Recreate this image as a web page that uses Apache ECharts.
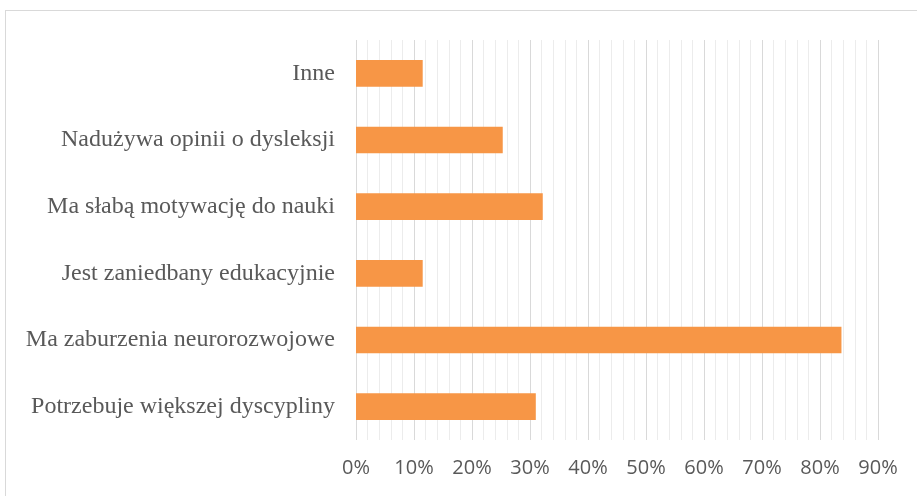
<!DOCTYPE html>
<html>
<head>
<meta charset="utf-8">
<script src="https://cdn.jsdelivr.net/npm/echarts@6/dist/echarts.min.js"></script>
<style>
  html, body { margin: 0; padding: 0; background: #fff; overflow: hidden; }
  #frame { position: absolute; left: 5px; top: 10px; width: 1000px; height: 1000px; border: 1px solid #d9d9d9; }
  #chart { position: absolute; left: 0; top: 0; width: 917px; height: 496px; }
</style>
</head>
<body>
<div id="frame"></div>
<div id="chart"></div>
<script>
// kategorie od dołu do góry
var categories = [
  "Potrzebuje większej dyscypliny",
  "Ma zaburzenia neurorozwojowe",
  "Jest zaniedbany edukacyjnie",
  "Ma słabą motywację do nauki",
  "Nadużywa opinii o dysleksji",
  "Inne"
];
var values = [31.0, 83.7, 11.5, 32.2, 25.3, 11.5];
var tickLabels = ["0%", "10%", "20%", "30%", "40%", "50%", "60%", "70%", "80%", "90%"];

var myChart = echarts.init(document.getElementById("chart"));
myChart.setOption({
  animation: false,
  grid: { left: 356, right: 39, top: 40, bottom: 56 },
  xAxis: {
    type: "value",
    min: 0,
    max: 90,
    interval: 10,
    axisLine: { show: false },
    axisTick: { show: false },
    axisLabel: {
      formatter: function (v) { return tickLabels[Math.round(v / 10)]; },
      color: "#595959",
      fontFamily: "Open Sans",
      fontSize: 20,
      margin: 18
    },
    splitLine: { lineStyle: { color: "#d9d9d9", width: 1 } },
    minorTick: { show: false, splitNumber: 5 },
    minorSplitLine: { show: true, lineStyle: { color: "#ececec", width: 1 } }
  },
  yAxis: {
    type: "category",
    data: categories,
    axisLine: { show: false },
    axisTick: { show: false },
    axisLabel: {
      color: "#595959",
      fontFamily: "Liberation Serif",
      fontSize: 24,
      margin: 21
    }
  },
  series: [
    {
      type: "bar",
      data: values,
      barCategoryGap: "60%",
      itemStyle: { color: "#f79646" }
    }
  ]
});
</script>
</body>
</html>
